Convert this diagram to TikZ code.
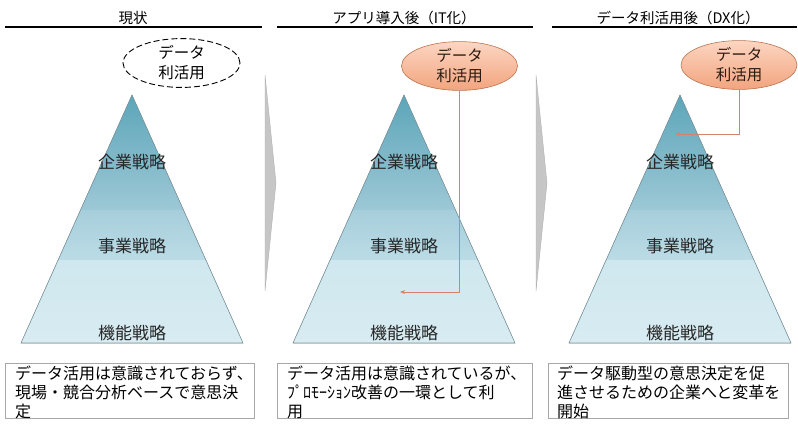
\documentclass[tikz,border=0pt]{standalone}
\usepackage{fontspec}
\setmainfont{Noto Sans CJK JP}
\usetikzlibrary{arrows.meta,shapes.geometric}
\definecolor{pyrA}{HTML}{5CA6B9}
\definecolor{pyrB}{HTML}{9DC8D6}
\definecolor{pyrC}{HTML}{A6CEDB}
\definecolor{pyrD}{HTML}{BBDCE6}
\definecolor{pyrE}{HTML}{CFE7EE}
\definecolor{pyrF}{HTML}{D8ECF2}
\definecolor{pyrEdge}{HTML}{7F9AA3}
\definecolor{peachTop}{HTML}{FCD6C2}
\definecolor{peachBot}{HTML}{F2A47E}
\definecolor{peachEdge}{HTML}{B9744F}
\definecolor{connCol}{HTML}{D4826C}
\definecolor{chevFill}{HTML}{C6C6C6}
\definecolor{chevEdge}{HTML}{B0B0B0}
\definecolor{boxEdge}{HTML}{A8A8A8}
\definecolor{elText}{HTML}{2B1A10}
\begin{document}
\begin{tikzpicture}[x=1pt,y=-1pt,
  titletext/.style={font=\fontsize{14.5}{16}\selectfont, inner sep=0pt},
  uline/.style={line width=2pt, black},
  dashel/.style={ellipse, draw=black, dashed, dash pattern=on 6pt off 3pt, line width=0.9pt,
    inner sep=0pt, minimum width=117pt, minimum height=38pt, align=center,
    font=\fontsize{15.5}{20}\selectfont},
  datael/.style={ellipse, draw=peachEdge, line width=0.6pt, top color=peachTop, bottom color=peachBot,
    inner sep=0pt, minimum width=116pt, minimum height=41pt, align=center, text=elText,
    font=\fontsize{15.5}{20}\selectfont},
  pyredge/.style={draw=pyrEdge, line width=0.6pt},
  pyrlabel/.style={font=\fontsize{17}{19}\selectfont, inner sep=0pt, anchor=base, text=black!85},
  chev/.style={fill=chevFill, draw=chevEdge, line width=0.4pt},
  conn/.style={draw=connCol, line width=1pt, -{Stealth[length=5pt,width=4pt]}},
  tbox/.style={draw=boxEdge, line width=0.6pt, inner sep=0pt},
  btext/.style={font=\fontsize{16}{19}\selectfont, inner sep=0pt, anchor=base west},
]
\useasboundingbox (0,0) rectangle (798,426);

% titles
\node[titletext] (h1) at (133,18) {現状};
\node[titletext] (h2) at (404,18) {アプリ導入後（IT化）};
\node[titletext] (h3) at (678,18) {データ利活用後（DX化）};
\draw[uline] (5,27) -- (262,27);
\draw[uline] (277,27) -- (533,27);
\draw[uline] (552,27) -- (797,27);

% pyramids
\foreach \cx in {132,404,680} {
  \fill[top color=pyrA, bottom color=pyrB] (\cx,95) -- (\cx+51.5,210) -- (\cx-51.5,210) -- cycle;
  \fill[top color=pyrC, bottom color=pyrD] (\cx-51.5,210) -- (\cx+51.5,210) -- (\cx+73.9,260) -- (\cx-73.9,260) -- cycle;
  \fill[top color=pyrE, bottom color=pyrF] (\cx-73.9,260) -- (\cx+73.9,260) -- (\cx+111,343) -- (\cx-111,343) -- cycle;
  \draw[pyredge] (\cx,95) -- (\cx+111,343) -- (\cx-111,343) -- cycle;
}

% pyramid labels
\node[pyrlabel] (p1a) at (132,168.5) {企業戦略};
\node[pyrlabel] (p1b) at (132,252.5) {事業戦略};
\node[pyrlabel] (p1c) at (132,339.5) {機能戦略};
\node[pyrlabel] (p2a) at (404,168.5) {企業戦略};
\node[pyrlabel] (p2b) at (404,252.5) {事業戦略};
\node[pyrlabel] (p2c) at (404,339.5) {機能戦略};
\node[pyrlabel] (p3a) at (680,168.5) {企業戦略};
\node[pyrlabel] (p3b) at (680,252.5) {事業戦略};
\node[pyrlabel] (p3c) at (680,339.5) {機能戦略};

% chevrons
\filldraw[chev] (265,75) -- (276,183) -- (265,291) -- cycle;
\filldraw[chev] (536,75) -- (547,183) -- (536,291) -- cycle;

% data ellipses
\node[dashel] (e1) at (181.5,63) {データ\\利活用};
\node[datael] (e2) at (459.5,66) {データ\\利活用};
\node[datael] (e3) at (739,65) {データ\\利活用};

% connectors
\coordinate (t2) at (400,292);
\coordinate (t3) at (675,134);
\draw[conn] (e2.south) |- (t2);
\draw[conn] (e3.south) |- (t3);

% text boxes
\node[tbox, minimum width=249pt, minimum height=55pt] (b1) at (129.5,390.5) {};
\node[tbox, minimum width=255pt, minimum height=55pt] (b2) at (404.5,390.5) {};
\node[tbox, minimum width=240pt, minimum height=55pt] (b3) at (668,390.5) {};

\node[btext] (b1l1) at (15,379) {データ活用は意識されておらず、};
\node[btext] (b1l2) at (15,398) {現場・競合分析ベースで意思決};
\node[btext] (b1l3) at (15,417) {定};
\node[btext] (b2l1) at (287,379) {データ活用は意識されているが、};
\node[btext] (b2l2) at (287,398) {ﾌﾟﾛﾓｰｼｮﾝ改善の一環として利};
\node[btext] (b2l3) at (287,417) {用};
\node[btext] (b3l1) at (557,379) {データ駆動型の意思決定を促};
\node[btext] (b3l2) at (557,398) {進させるための企業へと変革を};
\node[btext] (b3l3) at (557,417) {開始};
\end{tikzpicture}
\end{document}
